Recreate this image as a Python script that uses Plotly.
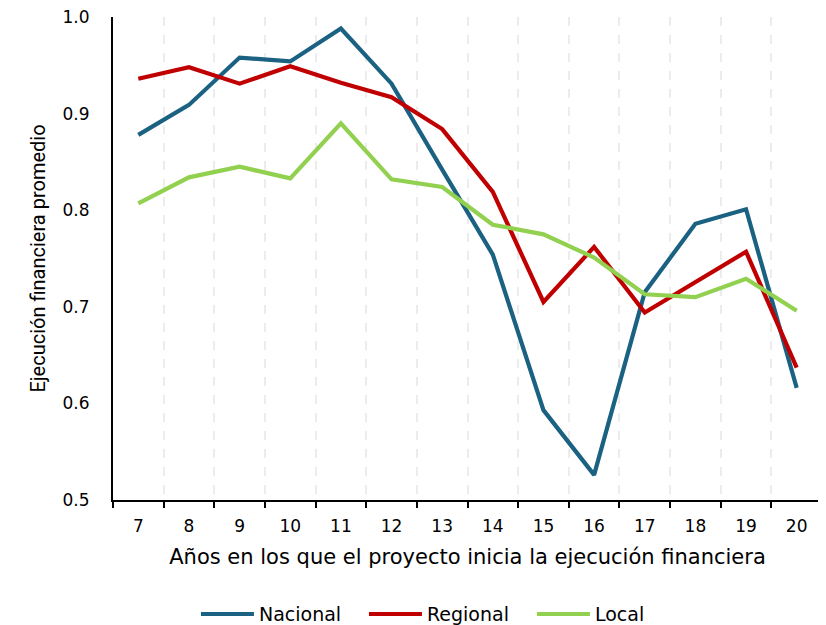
import plotly.graph_objects as go

# años de inicio de la ejecución financiera
anios = ["7", "8", "9", "10", "11", "12", "13", "14", "15", "16", "17", "18", "19", "20"]

nacional = [0.878, 0.909, 0.958, 0.954, 0.988, 0.931, 0.842,
            0.754, 0.593, 0.526, 0.715, 0.786, 0.801, 0.616]
regional = [0.936, 0.948, 0.931, 0.949, 0.932, 0.917, 0.884,
            0.819, 0.705, 0.762, 0.694, 0.726, 0.757, 0.637]
local = [0.807, 0.834, 0.845, 0.833, 0.890, 0.832, 0.824,
         0.785, 0.775, 0.751, 0.713, 0.710, 0.729, 0.696]

y_ticks = [0.5, 0.6, 0.7, 0.8, 0.9, 1.0]

series = [
    ("Nacional", nacional, "#1a6182"),
    ("Regional", regional, "#c00000"),
    ("Local", local, "#92d050"),
]

FONT = "DejaVu Sans"

fig = go.Figure()
for name, vals, color in series:
    fig.add_trace(go.Scatter(
        x=anios,
        y=vals,
        name=name,
        mode="lines",
        line=dict(color=color, width=4.2),
    ))

# the page body has an 8px margin, so the figure is a bit smaller than the window
fig.update_layout(
    width=818,
    height=617,
    plot_bgcolor="white",
    paper_bgcolor="white",
    font=dict(family=FONT, size=16, color="black"),
    margin=dict(l=105, r=4, t=9, b=125, pad=0, autoexpand=False),
    showlegend=True,
    legend=dict(
        orientation="h",
        x=0.117,
        xanchor="left",
        y=-0.197,
        yanchor="top",
        font=dict(size=19),
        entrywidth=100,
        entrywidthmode="pixels",
        itemwidth=53,
        tracegroupgap=0,
    ),
)

fig.update_xaxes(
    type="category",
    range=[-0.5, 13.5],
    tickson="boundaries",
    ticks="outside",
    ticklen=6,
    tickwidth=2,
    tickcolor="black",
    showline=True,
    linecolor="black",
    linewidth=2,
    showgrid=True,
    gridcolor="#ececec",
    gridwidth=2,
    griddash="dash",
    tickfont=dict(size=17),
    ticklabelstandoff=10,
    title=dict(
        text="Años en los que el proyecto inicia la ejecución financiera",
        font=dict(size=21),
        standoff=14,
    ),
    zeroline=False,
)

fig.update_yaxes(
    range=[0.5, 1.0],
    tickvals=y_ticks,
    tickformat=".1f",
    ticks="",
    showline=True,
    linecolor="black",
    linewidth=2,
    showgrid=False,
    zeroline=False,
    ticklabelstandoff=18,
    ticklabeloverflow="allow",
    tickfont=dict(size=17),
    title=dict(
        text="Ejecución financiera promedio",
        font=dict(family="Liberation Sans Narrow, Roboto", size=20),
        standoff=12,
    ),
)

fig.write_html("out.html")
